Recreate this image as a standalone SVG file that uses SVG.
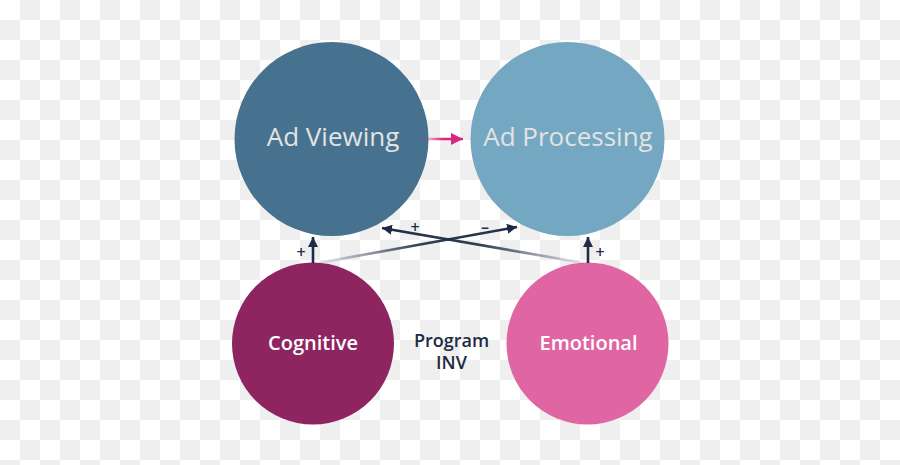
<svg xmlns="http://www.w3.org/2000/svg" width="900" height="465" viewBox="0 0 900 465">
  <defs>
    <pattern id="checker" width="40" height="40" patternUnits="userSpaceOnUse">
      <rect width="40" height="40" fill="#ffffff"/>
      <rect x="20" y="0" width="20" height="20" fill="#efefef"/>
      <rect x="0" y="20" width="20" height="20" fill="#efefef"/>
    </pattern>
    <marker id="navyHead" viewBox="0 0 10 10" refX="10" refY="5" markerWidth="10" markerHeight="10" markerUnits="userSpaceOnUse" orient="auto">
      <path d="M0,0 L10,5 L0,10 Z" fill="#1d2b44"/>
    </marker>
    <marker id="pinkHead" viewBox="0 0 10 10" refX="10" refY="5" markerWidth="13" markerHeight="12" markerUnits="userSpaceOnUse" orient="auto">
      <path d="M0,0 L10,5 L0,10 Z" fill="#d9287f"/>
    </marker>
    <linearGradient id="gradA" gradientUnits="userSpaceOnUse" x1="584" y1="263" x2="382" y2="228">
      <stop offset="0" stop-color="#1d2b44" stop-opacity="0.05"/>
      <stop offset="0.5" stop-color="#1d2b44" stop-opacity="0.9"/>
      <stop offset="1" stop-color="#1d2b44" stop-opacity="1"/>
    </linearGradient>
    <linearGradient id="gradB" gradientUnits="userSpaceOnUse" x1="318" y1="263" x2="517" y2="227">
      <stop offset="0" stop-color="#1d2b44" stop-opacity="0.05"/>
      <stop offset="0.5" stop-color="#1d2b44" stop-opacity="0.9"/>
      <stop offset="1" stop-color="#1d2b44" stop-opacity="1"/>
    </linearGradient>
    <linearGradient id="gradPink" gradientUnits="userSpaceOnUse" x1="422" y1="139" x2="463" y2="139">
      <stop offset="0" stop-color="#d9287f" stop-opacity="0"/>
      <stop offset="0.5" stop-color="#d9287f" stop-opacity="1"/>
      <stop offset="1" stop-color="#d9287f" stop-opacity="1"/>
    </linearGradient>
  </defs>
  <style>
    .big { font-family: "Open Sans", "Noto Sans", "Liberation Sans", sans-serif; font-size: 26px; fill: #e3e3e3; text-anchor: middle; }
    .mid { font-family: "Open Sans", "Noto Sans", "Liberation Sans", sans-serif; font-size: 20px; font-weight: 600; fill: #ffffff; text-anchor: middle; }
    .lbl { font-family: "Open Sans", "Noto Sans", "Liberation Sans", sans-serif; font-size: 18px; font-weight: 600; fill: #1d2b44; text-anchor: middle; }
    .sign { font-family: "Open Sans", "Noto Sans", "Liberation Sans", sans-serif; font-size: 16px; font-weight: 600; fill: #1d2b44; text-anchor: middle; }
    .conn { fill: none; stroke-width: 2.6; }
  </style>
  <rect width="900" height="465" fill="url(#checker)"/>

  <g id="ad-viewing">
    <circle cx="331.5" cy="139" r="97" fill="#47728f"/>
    <text class="big" x="333" y="146">Ad Viewing</text>
  </g>
  <g id="ad-processing">
    <circle cx="567.5" cy="139" r="97" fill="#74a7c1"/>
    <text class="big" x="568" y="146">Ad Processing</text>
  </g>
  <g id="cognitive">
    <circle cx="313" cy="343.5" r="81" fill="#8e2561"/>
    <text class="mid" x="313" y="350">Cognitive</text>
  </g>
  <g id="emotional">
    <circle cx="587.5" cy="343.5" r="81" fill="#e066a3"/>
    <text class="mid" x="588.5" y="350">Emotional</text>
  </g>
  <g id="program-inv">
    <text class="lbl" x="451.5" y="347">Program</text>
    <text class="lbl" x="451.5" y="369">INV</text>
  </g>

  <g id="connectors">
    <line class="conn" x1="313" y1="263" x2="313" y2="237" stroke="#1d2b44" marker-end="url(#navyHead)"/>
    <line class="conn" x1="588" y1="263" x2="588" y2="237" stroke="#1d2b44" marker-end="url(#navyHead)"/>
    <line class="conn" x1="584" y1="263" x2="382" y2="228" stroke="url(#gradA)" marker-end="url(#navyHead)"/>
    <line class="conn" x1="318" y1="263" x2="517" y2="227" stroke="url(#gradB)" marker-end="url(#navyHead)"/>
    <line class="conn" x1="422" y1="139" x2="463" y2="139" stroke="url(#gradPink)" stroke-width="3" marker-end="url(#pinkHead)"/>
    <text class="sign" x="301" y="258">+</text>
    <text class="sign" x="600" y="258">+</text>
    <text class="sign" x="415" y="233">+</text>
    <text class="sign" x="485" y="233">–</text>
  </g>
</svg>
